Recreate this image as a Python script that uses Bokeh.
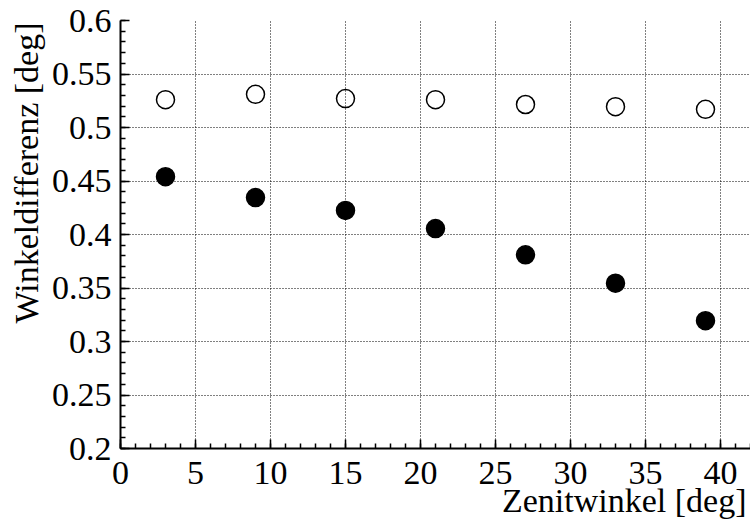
from bokeh.plotting import figure
from bokeh.models import Range1d, FixedTicker, Title
from bokeh.embed import file_html
from bokeh.resources import INLINE

zenith = [3, 9, 15, 21, 27, 33, 39]
diff_open = [0.526, 0.531, 0.527, 0.526, 0.5215, 0.5195, 0.517]
diff_filled = [0.454, 0.4345, 0.4225, 0.4055, 0.381, 0.3545, 0.3195]
x_ticks = [0, 5, 10, 15, 20, 25, 30, 35, 40]
y_ticks = [0.2, 0.25, 0.3, 0.35, 0.4, 0.45, 0.5, 0.55, 0.6]
y_tick_labels = {0.2: "0.2", 0.25: "0.25", 0.3: "0.3", 0.35: "0.35", 0.4: "0.4",
                 0.45: "0.45", 0.5: "0.5", 0.55: "0.55", 0.6: "0.6"}
x_title = "Zenitwinkel [deg]"
y_title = "Winkeldifferenz [deg]"

FONT = "Liberation Serif"
FS = "34px"

p = figure(width=750, height=525, output_backend="svg", toolbar_location=None,
           x_range=Range1d(0, 42), y_range=Range1d(0.2, 0.6),
           min_border_left=120, min_border_right=0, min_border_top=20,
           min_border_bottom=77)
p.outline_line_color = None
p.background_fill_color = "white"
p.border_fill_color = "white"

for ax in (p.xaxis, p.yaxis):
    ax.axis_line_width = 2
    ax.axis_line_color = "black"
    ax.major_tick_in = 9
    ax.major_tick_out = 0
    ax.minor_tick_in = 5
    ax.minor_tick_out = 0
    ax.major_tick_line_width = 1.5
    ax.minor_tick_line_width = 1.5
    ax.major_label_text_font = FONT
    ax.major_label_text_font_size = FS
    ax.major_label_text_color = "black"

p.xaxis.ticker = FixedTicker(ticks=x_ticks, minor_ticks=list(range(0, 43)))
p.yaxis.ticker = FixedTicker(ticks=y_ticks,
                             minor_ticks=[round(0.2 + 0.01 * i, 2) for i in range(41)])
p.yaxis.major_label_overrides = y_tick_labels
p.xaxis.major_label_standoff = 13
p.yaxis.major_label_standoff = 9

p.add_layout(Title(text=x_title, align="right", text_font=FONT, text_font_size=FS,
                   text_font_style="normal", text_color="black",
                   standoff=-13, offset=4), "below")
p.add_layout(Title(text=y_title, align="right", text_font=FONT, text_font_size=FS,
                   text_font_style="normal", text_color="black",
                   standoff=7, offset=2), "left")

for g in (p.xgrid, p.ygrid):
    g.grid_line_color = "black"
    g.grid_line_width = 1
    g.grid_line_dash = "1 2"

p.ygrid.ticker = FixedTicker(ticks=y_ticks)
p.xgrid.ticker = FixedTicker(ticks=x_ticks)

p.scatter(zenith, diff_open, size=18, marker="circle", fill_color=None,
          line_color="black", line_width=1.5)
p.scatter(zenith, diff_filled, size=18, marker="circle", fill_color="black",
          line_color="black", line_width=1.5)

open("out.html", "w").write(file_html(p, INLINE))
